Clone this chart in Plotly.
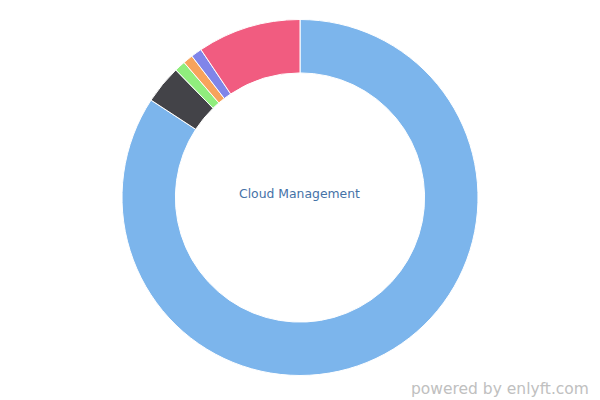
import plotly.graph_objects as go

labels = ["Cloud Management", "Other A", "Other B", "Other C", "Other D", "Other E"]
values = [84.3, 3.5, 1.0, 0.9, 1.0, 9.4]
colors = ["#7cb5ec", "#434348", "#90ed7d", "#f7a35c", "#8085e9", "#f15c80"]

W, H = 600, 400
OFF = 8  # page body margin
cx, cy, R = 300 - OFF, 197.5 - OFF, 178

fig = go.Figure(go.Pie(
    labels=labels, values=values, sort=False, direction="clockwise", rotation=0,
    hole=0.70, marker=dict(colors=colors, line=dict(color="#ffffff", width=1)),
    textinfo="none", hoverinfo="label+percent",
    domain=dict(x=[(cx - R) / W, (cx + R) / W],
                y=[(H - cy - R) / H, (H - cy + R) / H]),
))
fig.update_layout(
    width=W, height=H, margin=dict(l=0, r=0, t=0, b=0),
    paper_bgcolor="white", plot_bgcolor="white", showlegend=False,
    annotations=[
        dict(text="Cloud Management", x=(299 - OFF) / W, y=1 - (193 - OFF) / H,
             xref="paper", yref="paper", showarrow=False,
             font=dict(family="DejaVu Sans", size=12.4, color="#4572a7")),
        dict(text="powered by enlyft.com", x=(591 - OFF) / W, y=1 - (389 - OFF) / H,
             xref="paper", yref="paper", xanchor="right", yanchor="middle", showarrow=False,
             font=dict(family="DejaVu Sans", size=15.5, color="#c0c0c0")),
    ],
)
fig.write_html("out.html")
